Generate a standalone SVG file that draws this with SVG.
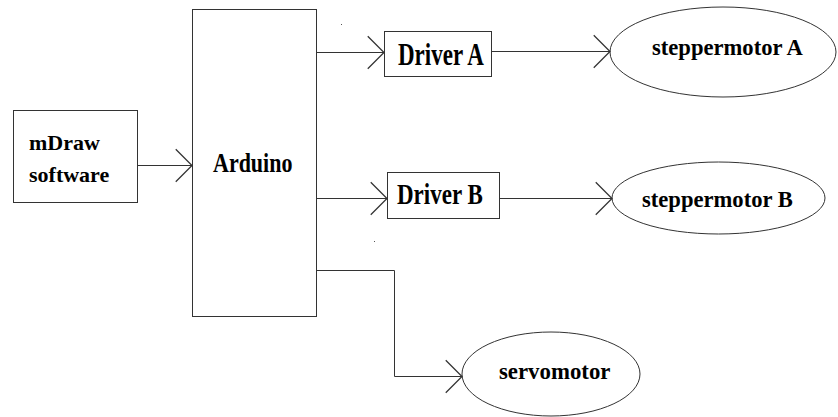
<svg xmlns="http://www.w3.org/2000/svg" width="838" height="417" viewBox="0 0 838 417">
  <style>
    .box { fill: #ffffff; stroke: #333333; stroke-width: 1; }
    .ell { fill: #ffffff; stroke: #333333; stroke-width: 1; }
    .lbl { font-family: "Liberation Serif", "Times New Roman", serif; font-weight: bold; fill: #000000; }
    .conn { fill: none; stroke: #333333; stroke-width: 1; }
  </style>
  <defs>
    <marker id="open" markerUnits="userSpaceOnUse" markerWidth="30" markerHeight="40" viewBox="-16 -16 20 32" refX="0" refY="0" orient="auto">
      <path d="M-13,-13 L0,0 L-13,13" fill="none" stroke="#333333" stroke-width="1"/>
    </marker>
  </defs>
  <rect width="838" height="417" fill="#ffffff"/>

  <g id="mdraw">
    <rect class="box" x="13.5" y="110.5" width="124" height="92"/>
    <text class="lbl" x="29" y="150" font-size="22">mDraw</text>
    <text class="lbl" x="29" y="182" font-size="22">software</text>
  </g>

  <g id="arduino">
    <rect class="box" x="192.5" y="9.5" width="124" height="307"/>
    <text class="lbl" font-size="22" transform="translate(213,172) scale(1,1.25)">Arduino</text>
  </g>

  <g id="driverA">
    <rect class="box" x="384.5" y="31.5" width="107" height="45"/>
    <text class="lbl" font-size="23" transform="translate(398,65) scale(1,1.35)">Driver A</text>
  </g>

  <g id="driverB">
    <rect class="box" x="387.5" y="172.5" width="112" height="46"/>
    <text class="lbl" font-size="23" transform="translate(397,204) scale(1,1.3)">Driver B</text>
  </g>

  <g id="stepperA">
    <ellipse class="ell" cx="723" cy="52" rx="113" ry="45"/>
    <text class="lbl" x="652" y="55" font-size="22.6">steppermotor A</text>
  </g>

  <g id="stepperB">
    <ellipse class="ell" cx="718.5" cy="198" rx="106.5" ry="36"/>
    <text class="lbl" x="642" y="206.5" font-size="22.6">steppermotor B</text>
  </g>

  <g id="servo">
    <ellipse class="ell" cx="551" cy="374" rx="89" ry="42"/>
    <text class="lbl" x="499" y="379" font-size="22.8">servomotor</text>
  </g>

  <g id="connectors">
    <line class="conn" x1="137.5" y1="165.5" x2="192" y2="165.5" marker-end="url(#open)"/>
    <line class="conn" x1="316.5" y1="52.5" x2="384" y2="52.5" marker-end="url(#open)"/>
    <line class="conn" x1="316.5" y1="198.5" x2="387" y2="198.5" marker-end="url(#open)"/>
    <line class="conn" x1="491.5" y1="51.5" x2="610" y2="51.5" marker-end="url(#open)"/>
    <line class="conn" x1="499.5" y1="198.5" x2="612" y2="198.5" marker-end="url(#open)"/>
    <polyline class="conn" points="316.5,270.5 394.5,270.5 394.5,376.5 462,376.5" marker-end="url(#open)"/>
  </g>

  <rect x="341" y="24" width="1" height="1" fill="#555555"/>
  <rect x="374" y="241" width="1" height="1" fill="#555555"/>
</svg>
